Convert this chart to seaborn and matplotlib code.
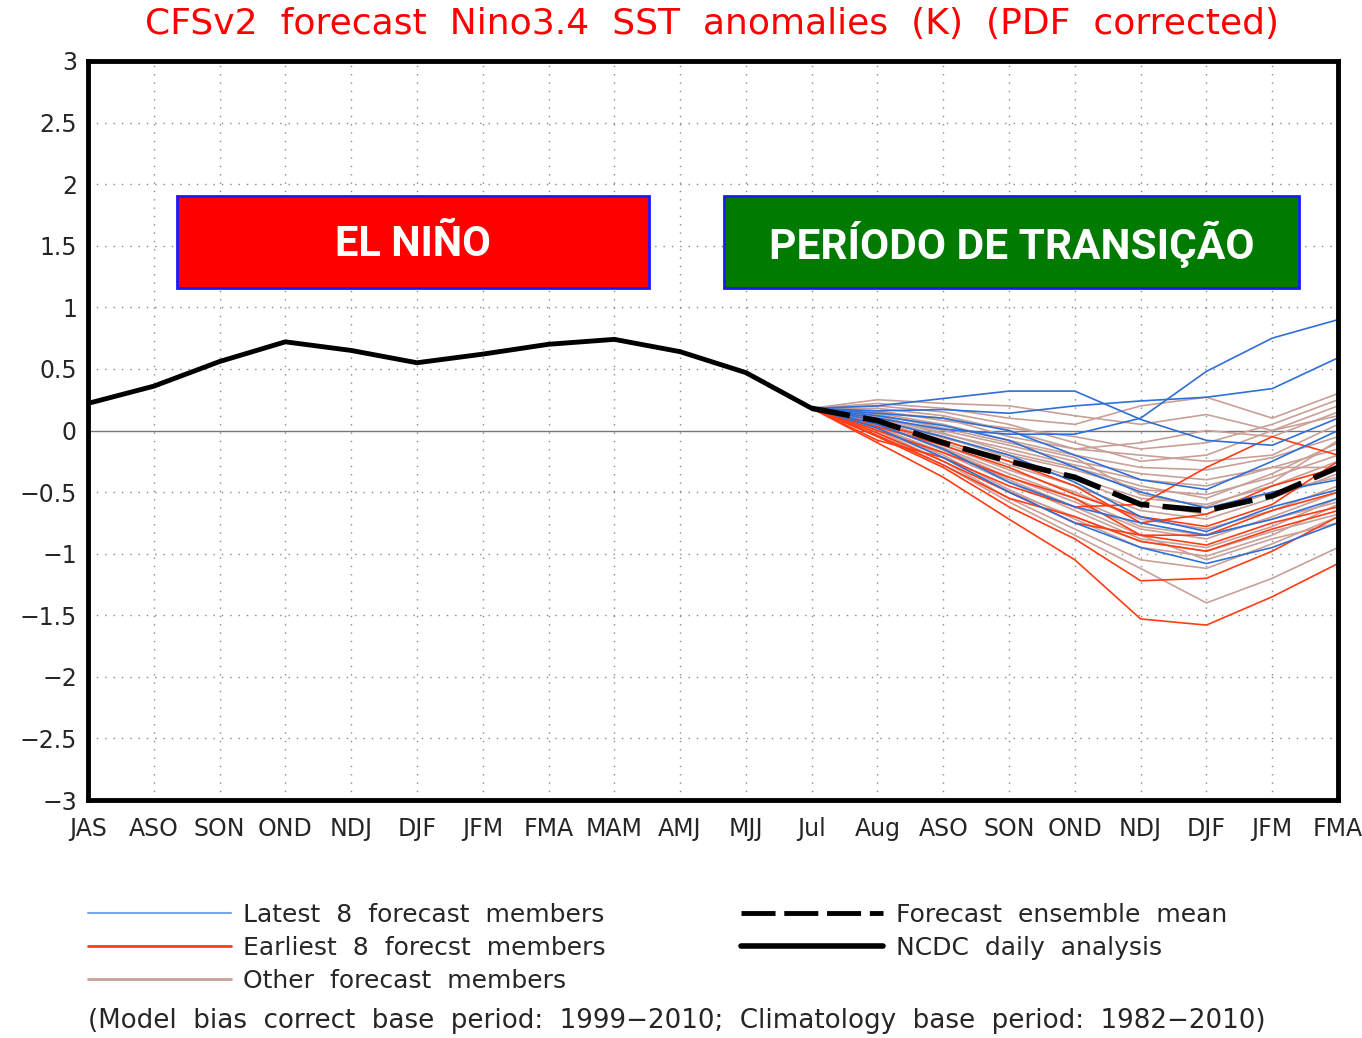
import numpy as np
import pandas as pd
import matplotlib
matplotlib.use("Agg")
import matplotlib.pyplot as plt
import seaborn as sns
from matplotlib.lines import Line2D
from matplotlib.patches import Rectangle

# month labels along x axis
months = ['JAS', 'ASO', 'SON', 'OND', 'NDJ', 'DJF', 'JFM', 'FMA', 'MAM', 'AMJ',
          'MJJ', 'Jul', 'Aug', 'ASO', 'SON', 'OND', 'NDJ', 'DJF', 'JFM', 'FMA']

# observed (NCDC daily analysis), JAS .. Jul
ncdc = [0.22, 0.36, 0.56, 0.72, 0.65, 0.55, 0.62, 0.70, 0.74, 0.64, 0.47, 0.18]

# forecast months: Jul .. FMA (index 11..19)
forecast_start = 11
ens_mean = [0.18, 0.08, -0.10, -0.25, -0.38, -0.60, -0.65, -0.53, -0.30]

latest8 = [
    [0.18, 0.10, 0.01, -0.03, -0.03, 0.10, 0.48, 0.75, 0.90],
    [0.18, 0.16, 0.17, 0.14, 0.20, 0.24, 0.27, 0.34, 0.59],
    [0.18, 0.20, 0.26, 0.32, 0.32, 0.09, -0.08, -0.12, 0.10],
    [0.18, 0.12, 0.04, -0.08, -0.30, -0.50, -0.63, -0.50, -0.40],
    [0.18, 0.05, -0.15, -0.42, -0.62, -0.75, -0.85, -0.72, -0.55],
    [0.18, 0.02, -0.22, -0.50, -0.75, -0.95, -1.08, -0.95, -0.75],
    [0.18, 0.14, 0.10, 0.00, -0.20, -0.40, -0.48, -0.25, 0.00],
    [0.18, 0.08, -0.05, -0.20, -0.42, -0.70, -0.82, -0.62, -0.48],
]

earliest8 = [
    [0.18, -0.10, -0.38, -0.72, -1.05, -1.53, -1.58, -1.35, -1.08],
    [0.18, -0.05, -0.30, -0.62, -0.88, -1.22, -1.20, -0.98, -0.70],
    [0.18, -0.02, -0.25, -0.50, -0.75, -0.85, -0.93, -0.75, -0.62],
    [0.18, 0.00, -0.18, -0.38, -0.55, -0.85, -0.85, -0.65, -0.50],
    [0.18, -0.08, -0.22, -0.45, -0.62, -0.60, -0.30, -0.05, -0.20],
    [0.18, 0.03, -0.12, -0.30, -0.52, -0.70, -0.78, -0.60, -0.25],
    [0.18, -0.04, -0.28, -0.55, -0.70, -0.90, -0.98, -0.80, -0.65],
    [0.18, 0.05, -0.08, -0.25, -0.45, -0.75, -0.68, -0.45, -0.30],
]

others = [
    [0.18, 0.25, 0.22, 0.20, 0.12, 0.05, 0.13, 0.00, 0.12],
    [0.18, 0.22, 0.18, 0.10, 0.05, 0.20, 0.27, 0.10, 0.30],
    [0.18, 0.20, 0.15, 0.05, -0.10, -0.25, -0.20, 0.00, 0.20],
    [0.18, 0.15, 0.10, -0.05, -0.15, -0.10, 0.00, -0.05, 0.15],
    [0.18, 0.18, 0.12, 0.00, -0.15, -0.20, -0.25, -0.20, 0.05],
    [0.18, 0.12, -0.02, -0.18, -0.30, -0.45, -0.55, -0.35, -0.10],
    [0.18, 0.10, -0.05, -0.22, -0.38, -0.55, -0.60, -0.45, -0.25],
    [0.18, 0.08, -0.10, -0.28, -0.45, -0.65, -0.72, -0.55, -0.35],
    [0.18, 0.06, -0.12, -0.32, -0.50, -0.72, -0.80, -0.65, -0.45],
    [0.18, 0.05, -0.15, -0.38, -0.58, -0.80, -0.88, -0.70, -0.50],
    [0.18, 0.03, -0.18, -0.42, -0.65, -0.88, -0.95, -0.78, -0.55],
    [0.18, 0.02, -0.20, -0.48, -0.72, -0.95, -1.02, -0.85, -0.60],
    [0.18, 0.00, -0.25, -0.55, -0.80, -1.05, -1.12, -0.92, -0.70],
    [0.18, -0.02, -0.28, -0.58, -0.85, -1.12, -1.40, -1.20, -0.95],
    [0.18, 0.10, 0.00, -0.12, -0.25, -0.35, -0.40, -0.30, -0.15],
    [0.18, 0.14, 0.05, -0.08, -0.20, -0.30, -0.32, -0.22, -0.05],
    [0.18, 0.07, -0.08, -0.25, -0.40, -0.60, -0.68, -0.50, -0.38],
    [0.18, 0.04, -0.14, -0.35, -0.55, -0.78, -0.85, -0.72, -0.58],
    [0.18, 0.01, -0.22, -0.50, -0.70, -0.90, -0.98, -0.82, -0.68],
    [0.18, 0.09, -0.06, -0.20, -0.32, -0.48, -0.52, -0.38, -0.20],
    [0.18, 0.16, 0.08, 0.02, -0.05, -0.15, -0.10, 0.05, 0.25],
    [0.18, 0.11, -0.03, -0.15, -0.28, -0.40, -0.45, -0.30, -0.30],
    [0.18, 0.06, -0.16, -0.40, -0.62, -0.85, -1.05, -0.88, -0.75],
    [0.18, 0.13, 0.02, -0.10, -0.22, -0.52, -0.62, -0.42, -0.08],
]

c_blue = '#2f6fd8'
c_red = '#ff3c14'
c_brown = '#c9a097'

# long table of all members
rows = []
for grp, members in [('other', others), ('earliest', earliest8), ('latest', latest8)]:
    for m, vals in enumerate(members):
        for k, v in enumerate(vals):
            rows.append({'x': forecast_start + k, 'val': v, 'member': f'{grp}{m}', 'group': grp})
df = pd.DataFrame(rows)

sns.set_style('white')
plt.rcParams['font.family'] = ['DejaVu Sans']

fig = plt.figure(figsize=(13.62, 10.38), dpi=100)
ax = fig.add_axes([88 / 1362, 1 - 800 / 1038, 1250 / 1362, 739 / 1038])

# grid
for xi in range(len(months)):
    ax.axvline(xi, color='#888888', lw=1, ls=(0, (1, 5)), zorder=0)
for yv in np.arange(-2.5, 3.0, 0.5):
    if abs(yv) > 1e-9:
        ax.axhline(yv, color='#888888', lw=1, ls=(0, (1, 5)), zorder=0)
ax.axhline(0, color='#777777', lw=1, zorder=1)

pal = {'other': c_brown, 'earliest': c_red, 'latest': c_blue}
for grp in ['other', 'earliest', 'latest']:
    sns.lineplot(data=df[df.group == grp], x='x', y='val', units='member', estimator=None,
                 color=pal[grp], lw=1.2, ax=ax, legend=False, zorder=2)

sns.lineplot(x=list(range(len(ncdc))), y=ncdc, color='black', lw=3.5, ax=ax, zorder=4)
sns.lineplot(x=list(range(forecast_start, forecast_start + len(ens_mean))), y=ens_mean,
             color='black', lw=4, ax=ax, zorder=4)
ax.lines[-1].set_dashes([7, 2.4])

ax.set_xlim(0, len(months) - 1)
ax.set_ylim(-3, 3)
ax.set_xticks(range(len(months)))
ax.set_xticklabels(months, fontsize=17)
yt = np.arange(-3, 3.01, 0.5)
ax.set_yticks(yt)
ax.set_yticklabels([('%g' % v).replace('-', '\u2212') for v in yt], fontsize=17)
ax.tick_params(axis='both', direction='out', length=6, width=1, color='black', pad=2)
ax.tick_params(axis='x', pad=6)
ax.set_xlabel('')
ax.set_ylabel('')
for s in ax.spines.values():
    s.set_linewidth(3.5)
    s.set_color('black')

# boxes
ax.add_patch(Rectangle((1.35, 1.16), 7.18, 0.74, facecolor='#ff0000', edgecolor='#1a1aff',
                       lw=2, zorder=5))
ax.text(4.94, 1.51, 'EL NIÑO', color='white', fontsize=30, fontweight='bold',
        family='Roboto', ha='center', va='center', zorder=6)
ax.add_patch(Rectangle((9.67, 1.16), 8.74, 0.74, facecolor='#007a00', edgecolor='#1a1aff',
                       lw=2, zorder=5))
ax.text(14.04, 1.51, 'PERÍODO DE TRANSIÇÃO', color='white', fontsize=30.5, fontweight='bold',
        family='Roboto', ha='center', va='center', zorder=6)

fig.text(0.523, 1 - 24 / 1038, 'CFSv2  forecast  Nino3.4  SST  anomalies  (K)  (PDF  corrected)',
         color='#ff0000', fontsize=26, ha='center', va='center')

handles = [
    Line2D([], [], color='#7aa6f0', lw=1.5),
    Line2D([], [], color=c_red, lw=2),
    Line2D([], [], color=c_brown, lw=2),
    Line2D([], [], color='black', lw=3.5, dashes=[7, 1.8]),
    Line2D([], [], color='black', lw=4),
]
labels = ['Latest  8  forecast  members', 'Earliest  8  forecst  members', 'Other  forecast  members',
          'Forecast  ensemble  mean', 'NCDC  daily  analysis']
leg = fig.legend(handles, labels, ncol=2, frameon=False, loc='upper left',
                 bbox_to_anchor=(78 / 1362, 1 - 893 / 1038), fontsize=18, handlelength=5.7,
                 handletextpad=0.5, columnspacing=5.4, labelspacing=0.35, borderaxespad=0)

fig.text(88 / 1362, 1 - 1021 / 1038,
         '(Model  bias  correct  base  period:  1999\u22122010;  Climatology  base  period:  1982\u22122010)',
         fontsize=18.8, ha='left', va='center')

fig.savefig('out.png', dpi=100)
